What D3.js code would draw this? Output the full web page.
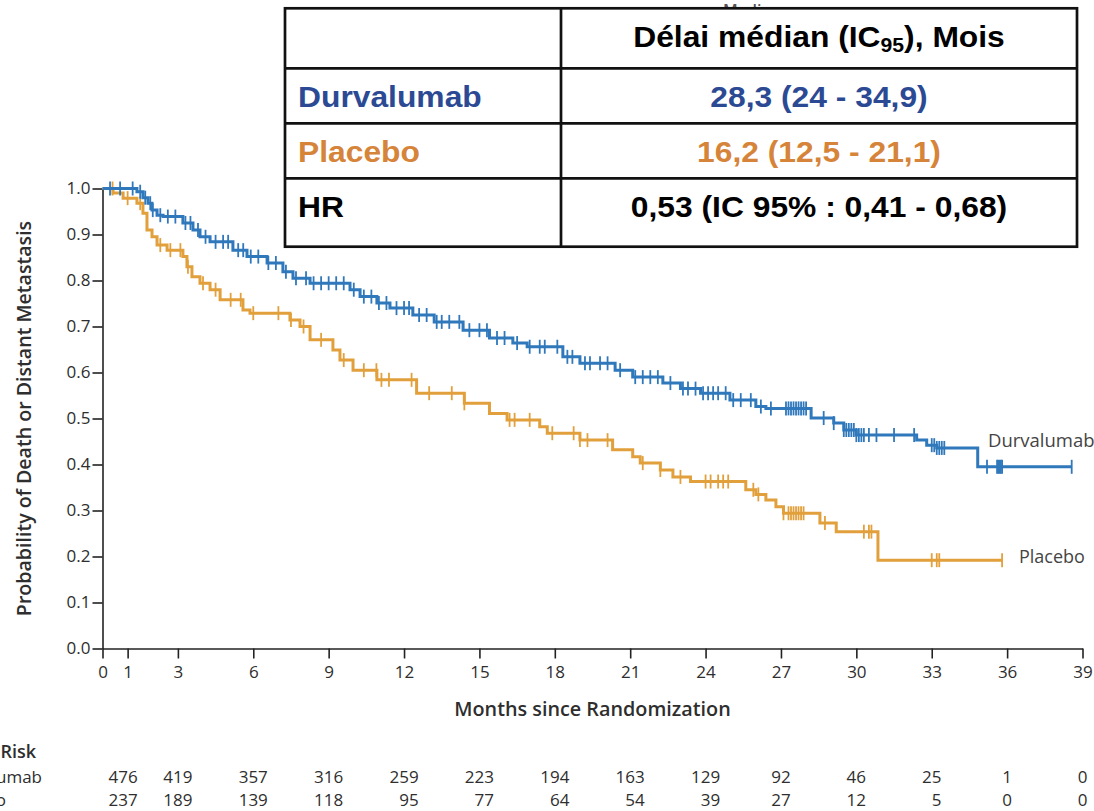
<!DOCTYPE html>
<html>
<head>
<meta charset="utf-8">
<script src="https://cdn.jsdelivr.net/npm/d3@7"></script>
<style>
  body { margin: 0; background: #fff; }
  svg { display: block; }
</style>
</head>
<body>
<svg id="chart" width="1094" height="811"></svg>
<script>
// ---- Kaplan-Meier data (months since randomization, probability) ----
const durvalumabEventMonths = [0, 1.37, 1.61, 1.81, 1.97, 2.17, 2.41, 3.2, 3.6, 3.88, 4.28, 5.19, 5.75, 6.55, 7.18, 7.58, 8.26, 9.85, 10.25, 10.92, 11.44, 12.35, 13.2, 14.35, 15.4, 16.33, 16.9, 18.32, 19.0, 20.4, 21.1, 22.3, 23.0, 23.8, 24.97, 26.0, 26.4, 28.2, 29.1, 29.5, 30.0, 32.4, 32.8, 33.2, 34.83];
const durvalumabProb = [1.0, 0.993, 0.98, 0.968, 0.953, 0.942, 0.939, 0.925, 0.91, 0.895, 0.884, 0.866, 0.852, 0.838, 0.819, 0.805, 0.794, 0.78, 0.765, 0.751, 0.74, 0.725, 0.71, 0.692, 0.675, 0.664, 0.656, 0.634, 0.62, 0.605, 0.59, 0.577, 0.565, 0.555, 0.54, 0.526, 0.522, 0.501, 0.49, 0.475, 0.464, 0.453, 0.442, 0.436, 0.395];
const durvalumabCensorMonths = [0.3, 0.7, 1.2, 1.5, 1.7, 1.9, 2.0, 2.3, 2.6, 2.9, 3.3, 3.5, 3.8, 4.1, 4.5, 4.8, 5.0, 5.4, 5.6, 5.9, 6.2, 6.6, 6.9, 7.3, 7.7, 8.1, 8.4, 8.7, 9.0, 9.3, 9.6, 10.0, 10.4, 10.7, 11.0, 11.3, 11.7, 12.0, 12.2, 12.6, 12.9, 13.3, 13.5, 13.8, 14.2, 14.6, 15.0, 15.3, 15.7, 16.0, 16.5, 17.0, 17.4, 17.6, 18.1, 18.5, 18.7, 19.2, 19.4, 19.8, 20.1, 20.6, 21.2, 21.5, 21.8, 22.1, 22.6, 23.1, 23.3, 23.6, 23.9, 24.1, 24.3, 24.5, 24.8, 25.1, 25.4, 25.8, 26.2, 26.6, 27.2, 27.3, 27.4, 27.5, 27.6, 27.7, 27.8, 27.9, 28.0, 28.7, 29.1, 29.5, 29.6, 29.7, 29.8, 29.9, 30.0, 30.1, 30.2, 30.3, 30.5, 30.8, 31.5, 32.3, 33.0, 33.1, 33.2, 33.3, 33.4, 33.5, 35.2, 35.6, 35.65, 35.7, 35.75, 35.8, 38.57];

const placeboEventMonths = [0, 0.42, 0.82, 1.37, 1.61, 1.77, 1.97, 2.17, 2.57, 3.2, 3.36, 3.56, 3.88, 4.28, 4.68, 5.59, 5.87, 7.46, 7.86, 8.26, 9.17, 9.45, 9.97, 10.92, 12.5, 14.4, 15.4, 16.1, 17.4, 17.7, 19.0, 20.3, 21.1, 21.4, 22.2, 22.7, 23.4, 25.6, 26.0, 26.4, 26.8, 27.1, 28.55, 29.2, 30.86];
const placeboProb = [1.0, 0.99, 0.979, 0.968, 0.946, 0.91, 0.895, 0.877, 0.866, 0.852, 0.83, 0.808, 0.794, 0.78, 0.758, 0.736, 0.729, 0.714, 0.70, 0.671, 0.649, 0.627, 0.605, 0.584, 0.555, 0.533, 0.511, 0.497, 0.482, 0.468, 0.453, 0.432, 0.417, 0.403, 0.388, 0.373, 0.363, 0.345, 0.335, 0.323, 0.308, 0.294, 0.273, 0.254, 0.192];
const placeboCensorMonths = [0.4, 1.0, 1.5, 2.3, 2.7, 3.1, 3.4, 4.0, 4.5, 5.1, 5.5, 6.0, 7.0, 7.5, 8.0, 8.7, 9.6, 10.4, 10.9, 11.1, 11.4, 12.3, 13.0, 13.9, 14.4, 16.2, 16.4, 17.0, 17.9, 18.75, 19.0, 19.3, 20.1, 21.5, 22.2, 23.0, 24.0, 24.2, 24.5, 24.7, 24.9, 25.9, 26.1, 27.1, 27.3, 27.4, 27.5, 27.6, 27.7, 27.8, 27.9, 28.75, 30.3, 30.5, 30.6, 33.0, 33.2, 33.3, 35.8];

// ---- axes ----
const xTickValues = [0, 1, 3, 6, 9, 12, 15, 18, 21, 24, 27, 30, 33, 36, 39];
const yTickValues = [0, 0.1, 0.2, 0.3, 0.4, 0.5, 0.6, 0.7, 0.8, 0.9, 1.0];

// ---- number at risk ----
const riskMonths = [0, 3, 6, 9, 12, 15, 18, 21, 24, 27, 30, 33, 36, 39];
const durvalumabAtRisk = [476, 419, 357, 316, 259, 223, 194, 163, 129, 92, 46, 25, 1, 0];
const placeboAtRisk = [237, 189, 139, 118, 95, 77, 64, 54, 39, 27, 12, 5, 0, 0];

// ---- summary table ----
const tableHeader = "Délai médian (IC";
const tableHeaderSub = "95";
const tableHeaderTail = "), Mois";
const tableRowLabels = ["Durvalumab", "Placebo", "HR"];
const tableRowValues = ["28,3 (24 - 34,9)", "16,2 (12,5 - 21,1)", "0,53 (IC 95% : 0,41 - 0,68)"];

const blue = "#2f78bb";
const orange = "#e2a03c";
const tableBlue = "#2c4a94";
const tableOrange = "#d5843a";
const inkColor = "#2e2e2e";
const font = "'Open Sans', 'Noto Sans', sans-serif";

const svg = d3.select("#chart");

const x = d3.scaleLinear().domain([0, 39]).range([102.5, 1082.5]);
const y = d3.scaleLinear().domain([0, 1]).range([648.5, 188.5]);

// axes
const yAxis = d3.axisLeft(y).tickValues(yTickValues).tickFormat(d3.format(".1f"))
  .tickSize(10).tickPadding(2).tickSizeOuter(0);
const xAxis = d3.axisBottom(x).tickValues(xTickValues).tickFormat(d3.format("d"))
  .tickSize(10).tickPadding(7).tickSizeOuter(0);

function styleAxis(g) {
  g.select(".domain").attr("stroke", "#222").attr("stroke-width", 1.6);
  g.selectAll(".tick line").attr("stroke", "#222").attr("stroke-width", 1.6);
  g.selectAll(".tick text").attr("fill", inkColor).style("font-family", font).style("font-size", "17px");
}
svg.append("g").attr("transform", `translate(0,${y(0)})`).call(xAxis).call(styleAxis);
svg.append("g").attr("transform", `translate(${x(0)},0)`).call(yAxis).call(styleAxis);

// axis titles
svg.append("text")
  .attr("x", (x.range()[0] + x.range()[1]) / 2).attr("y", 716)
  .attr("text-anchor", "middle")
  .style("font-family", font).style("font-size", "19.8px").style("font-weight", 600)
  .attr("fill", inkColor)
  .text("Months since Randomization");

svg.append("text")
  .attr("transform", `translate(31,${(y.range()[0] + y.range()[1]) / 2}) rotate(-90)`)
  .attr("text-anchor", "middle")
  .style("font-family", font).style("font-size", "19.6px").style("font-weight", 600)
  .attr("fill", inkColor)
  .text("Probability of Death or Distant Metastasis");

// step curves with censor marks
function drawArm(eventMonths, probs, censorMonths, color) {
  const lastMonth = d3.max(censorMonths);
  const pts = eventMonths.map((m, i) => [m, probs[i]]);
  pts.push([lastMonth, probs[probs.length - 1]]);
  const line = d3.line().x(d => x(d[0])).y(d => y(d[1])).curve(d3.curveStepAfter);
  svg.append("path").datum(pts)
    .attr("fill", "none").attr("stroke", color).attr("stroke-width", 3)
    .attr("d", line);
  const bis = d3.bisector(d => d).right;
  const probAt = m => probs[Math.max(0, bis(eventMonths, m) - 1)];
  svg.append("g").selectAll("line").data(censorMonths).join("line")
    .attr("x1", d => x(d)).attr("x2", d => x(d))
    .attr("y1", d => y(probAt(d)) - 7).attr("y2", d => y(probAt(d)) + 7)
    .attr("stroke", color).attr("stroke-width", 1.8);
}
drawArm(placeboEventMonths, placeboProb, placeboCensorMonths, orange);
drawArm(durvalumabEventMonths, durvalumabProb, durvalumabCensorMonths, blue);

// curve labels
svg.append("text").attr("x", 988).attr("y", 447)
  .style("font-family", font).style("font-size", "18.5px").attr("fill", "#444")
  .text("Durvalumab");
svg.append("text").attr("x", 1019).attr("y", 563)
  .style("font-family", font).style("font-size", "18px").attr("fill", "#444")
  .text("Placebo");

// number at risk table
svg.append("text").attr("x", 36).attr("y", 758).attr("text-anchor", "end")
  .style("font-family", font).style("font-size", "18px").style("font-weight", 600)
  .attr("fill", inkColor).text("No. at Risk");
const riskRows = [
  { label: "Durvalumab", values: durvalumabAtRisk, baseline: 783, labelEnd: 42 },
  { label: "Placebo", values: placeboAtRisk, baseline: 806, labelEnd: 6 }
];
riskRows.forEach(r => {
  svg.append("text").attr("x", r.labelEnd).attr("y", r.baseline).attr("text-anchor", "end")
    .style("font-family", font).style("font-size", "17px").attr("fill", inkColor)
    .text(r.label);
});
riskMonths.forEach((m, i) => {
  const texts = riskRows.map(r =>
    svg.append("text").attr("y", r.baseline).attr("text-anchor", "end")
      .style("font-family", font).style("font-size", "17px").attr("fill", inkColor)
      .text(r.values[i]));
  const widest = d3.max(texts, t => t.node().getComputedTextLength());
  // keep the column clear of the y axis, otherwise centre it on its tick
  const left = Math.max(x(m) - widest / 2, x(0) + 6);
  texts.forEach(t => t.attr("x", left + widest));
});

// partially hidden caption behind the summary box
svg.append("text").attr("x", 752).attr("y", 16).attr("text-anchor", "middle")
  .style("font-family", font).style("font-size", "16px").style("font-weight", 600)
  .attr("fill", "#555").text("Median");

// summary table
const tbl = svg.append("g");
const tLeft = 285, tRight = 1077, tSplit = 561;
const rowEdges = [8.3, 68.3, 123.3, 178.3, 246.7];
tbl.append("rect").attr("x", tLeft).attr("y", rowEdges[0])
  .attr("width", tRight - tLeft).attr("height", rowEdges[4] - rowEdges[0])
  .attr("fill", "#fff").attr("stroke", "#111").attr("stroke-width", 2.7);
rowEdges.slice(1, 4).forEach(yy => {
  tbl.append("line").attr("x1", tLeft).attr("x2", tRight).attr("y1", yy).attr("y2", yy)
    .attr("stroke", "#111").attr("stroke-width", 2.7);
});
tbl.append("line").attr("x1", tSplit).attr("x2", tSplit).attr("y1", rowEdges[0]).attr("y2", rowEdges[4])
  .attr("stroke", "#111").attr("stroke-width", 2.7);

const tFont = "'Liberation Sans', Arial, sans-serif";
function tableText(tx, ty, anchor, color) {
  return tbl.append("text")
    .attr("transform", `translate(${tx},${ty}) scale(1.06,1)`)
    .attr("text-anchor", anchor)
    .style("font-family", tFont).style("font-size", "30px").style("font-weight", 700)
    .attr("fill", color);
}
const colCenter = (tSplit + tRight) / 2;
const head = tableText(colCenter, 46.7, "middle", "#000");
head.append("tspan").text(tableHeader);
head.append("tspan").attr("dy", 5).style("font-size", "20px").text(tableHeaderSub);
head.append("tspan").attr("dy", -5).text(tableHeaderTail);

const rowColors = [tableBlue, tableOrange, "#000"];
const rowBaselines = [106.7, 161.7, 216.7];
tableRowLabels.forEach((lab, i) => {
  tableText(298, rowBaselines[i], "start", rowColors[i]).text(lab);
  tableText(colCenter, rowBaselines[i], "middle", rowColors[i]).text(tableRowValues[i]);
});
</script>
</body>
</html>
